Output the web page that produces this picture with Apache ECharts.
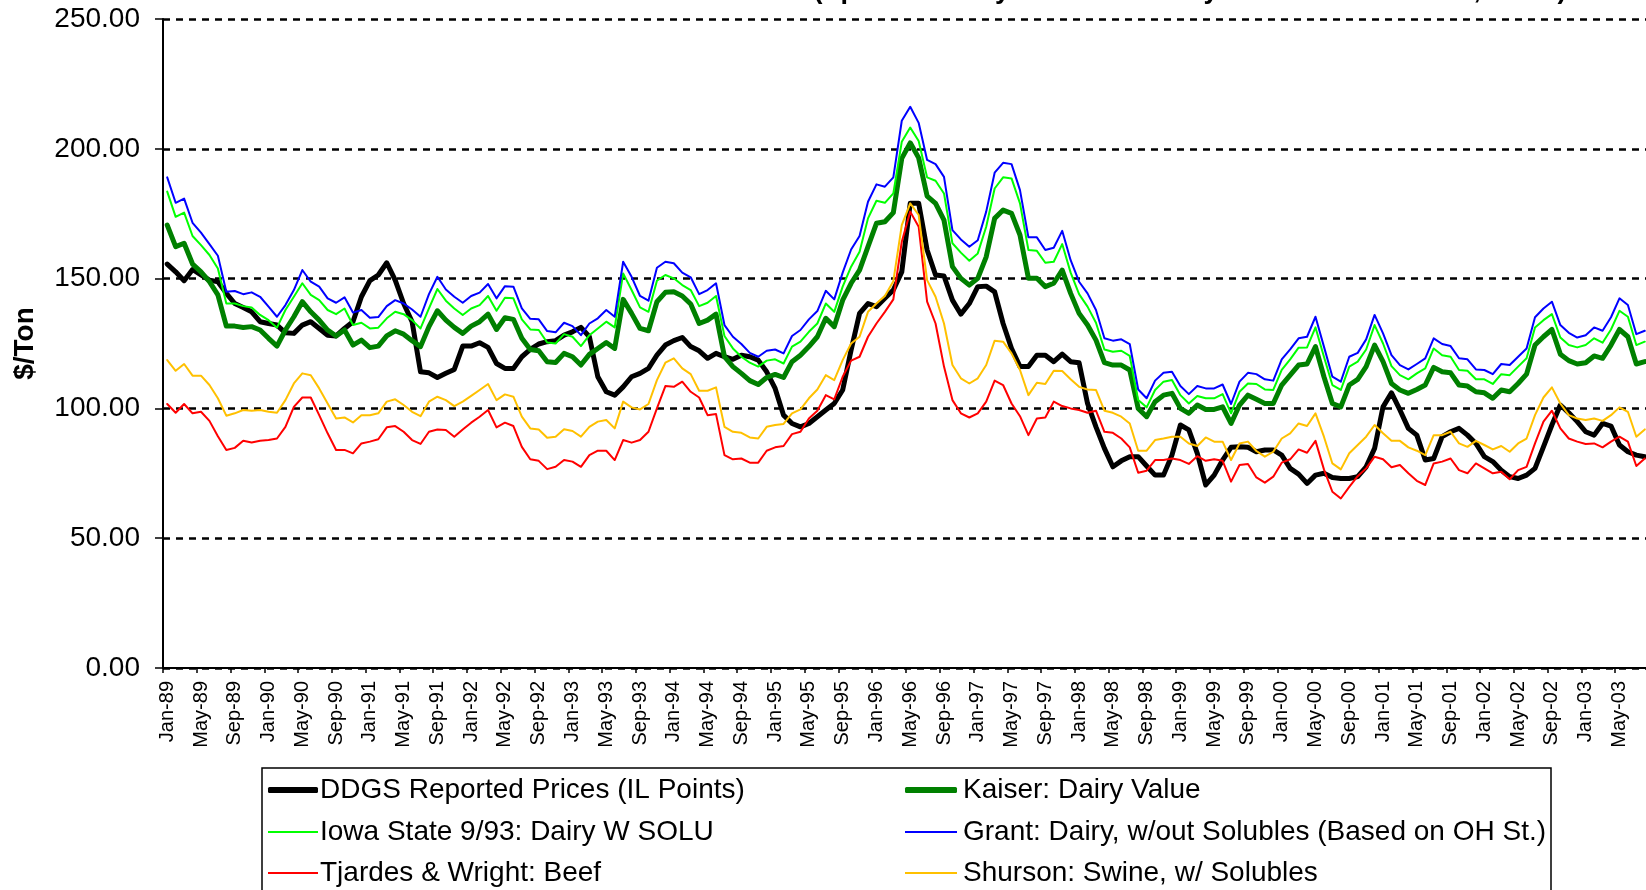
<!DOCTYPE html>
<html>
<head>
<meta charset="utf-8">
<script src="https://cdn.jsdelivr.net/npm/echarts@6/dist/echarts.min.js"></script>
<style>
html,body{margin:0;padding:0;background:#fff;}
#chart{width:1646px;height:890px;}
</style>
</head>
<body>
<div id="chart"></div>
<script>
// ---- data (monthly, Jan-89 .. Aug-03) ----
const monthNames = ['Jan','Feb','Mar','Apr','May','Jun','Jul','Aug','Sep','Oct','Nov','Dec'];
const firstYear = 1989;
const monthCount = 176;
const categories = [];
for (let k = 0; k < monthCount; k++) {
  const y = (firstYear + Math.floor(k / 12)) % 100;
  categories.push(monthNames[k % 12] + '-' + (y < 10 ? '0' + y : '' + y));
}

const yTicks = [0, 50, 100, 150, 200, 250];

const seriesNames = [
  'DDGS Reported Prices (IL Points)',
  'Kaiser: Dairy Value',
  'Iowa State 9/93: Dairy W SOLU',
  'Grant: Dairy, w/out Solubles (Based on OH St.)',
  'Tjardes & Wright: Beef',
  'Shurson: Swine, w/ Solubles'
];

const titleText = '(Spot Prices by Month vs. Dairy Ration Feed Values, 89-03)';

const ddgs = [155.6,152.6,149.2,153.5,151.4,149.4,148.8,144.3,140.4,138.9,137.2,133.4,132.7,132.1,129.1,128.9,132.1,133.4,130.8,128.2,127.9,130.8,133.4,143.0,149.2,151.4,156.1,149.4,140.4,133.4,114.1,
113.7,111.9,113.5,115.0,124.0,124.0,125.3,123.5,117.3,115.4,115.4,119.9,122.7,124.8,125.7,126.1,128.2,129.5,131.2,127.6,112.2,106.4,105.1,108.3,112.2,113.5,115.4,120.5,124.4,
126.1,127.3,123.8,122.2,119.3,121.2,119.9,118.9,120.5,119.9,118.6,114.1,107.7,97.4,94.2,92.9,94.2,96.8,99.4,101.9,107.1,122.5,136.6,140.4,139.2,142.4,145.6,152.6,179.0,179.0,
161.0,151.4,151.0,141.7,136.3,140.4,146.9,147.1,144.9,132.7,123.1,116.1,116.1,120.5,120.5,118.0,120.9,118.0,117.6,101.9,92.9,84.6,77.5,79.8,81.4,81.4,77.8,74.3,74.3,82.0,
93.6,91.7,82.7,70.5,74.3,80.1,85.0,85.2,85.0,83.3,84.0,84.0,82.0,76.9,74.7,71.1,74.3,75.0,73.4,73.0,73.0,73.7,77.5,84.6,100.6,106.0,99.4,92.3,89.7,
80.1,80.7,89.1,91.0,92.3,89.7,86.5,81.4,79.5,76.2,73.7,73.0,74.3,76.9,85.2,93.6,101.3,98.3,94.9,91.0,89.7,94.2,93.2,85.9,83.3,82.0,81.4];

const kaiser = [170.6,162.3,163.6,155.6,152.6,148.8,143.7,131.7,131.7,131.2,131.5,130.2,127.0,124.0,130.2,135.3,141.1,137.2,134.0,130.2,127.9,130.2,124.4,126.3,123.4,124.0,127.9,129.9,128.6,126.1,123.8,
131.5,137.6,134.0,131.2,128.9,131.7,133.4,136.3,130.4,134.9,134.3,127.0,122.7,122.2,118.0,117.7,121.2,119.9,116.7,120.8,123.1,125.4,123.1,142.0,136.6,130.8,129.9,141.1,144.7,
144.9,143.3,140.2,132.7,134.0,136.3,119.9,116.1,113.5,110.7,109.2,111.9,113.1,111.9,118.0,120.5,123.8,127.6,134.7,131.5,141.7,148.2,153.3,162.3,171.3,171.9,175.4,196.3,202.3,196.5,
181.8,179.0,172.5,154.6,150.1,147.5,150.1,158.4,173.2,176.4,175.1,166.8,150.1,150.1,146.9,148.2,153.3,144.3,136.6,132.1,126.3,117.6,116.7,116.7,114.8,100.0,96.8,102.6,105.1,105.8,
100.0,98.1,101.3,99.6,99.6,100.6,94.2,101.3,105.1,103.5,101.9,101.9,109.0,112.8,116.7,117.1,123.8,112.2,101.9,100.6,109.0,111.2,116.1,124.4,118.0,109.6,107.1,105.8,107.3,
109.0,115.8,114.1,113.7,109.0,108.6,106.4,106.0,103.9,107.1,106.4,109.6,113.2,124.4,127.6,130.4,120.9,118.4,117.1,117.6,120.2,119.3,124.4,130.4,127.6,117.1,118.0];

const iowa = [183.5,173.8,175.4,166.4,162.9,159.1,153.9,140.4,140.4,139.4,138.9,136.0,134.0,131.1,137.9,143.0,148.2,143.7,141.7,137.9,136.3,138.5,132.1,133.0,130.8,131.1,134.7,137.2,136.3,134.0,130.8,
138.5,146.0,141.5,138.5,136.0,138.5,139.8,143.3,137.6,142.6,142.4,134.3,130.4,130.2,125.4,125.0,128.6,127.6,124.0,128.2,130.8,133.4,131.2,152.0,145.6,138.9,137.2,149.2,151.4,
150.1,147.5,145.6,139.4,140.7,143.3,127.9,123.1,119.9,117.6,116.1,118.4,118.9,117.3,123.8,125.7,129.5,132.7,140.4,137.2,146.9,154.6,160.3,173.2,180.0,179.2,182.8,202.7,208.2,203.0,
189.0,187.7,182.8,163.6,160.0,156.9,159.7,170.0,184.7,189.0,188.6,179.0,161.0,160.7,156.1,156.5,163.3,152.3,144.0,139.2,133.0,122.7,121.8,122.2,120.2,103.2,100.4,107.1,110.3,110.9,
105.1,101.9,104.8,103.9,103.9,105.5,98.1,106.4,109.6,109.4,107.3,107.1,114.8,118.9,123.4,123.5,131.2,119.9,109.0,107.1,116.1,118.0,122.7,132.1,125.0,116.3,112.8,111.2,113.5,
115.4,123.1,120.5,119.9,114.8,114.5,111.2,111.2,109.4,113.2,112.8,116.1,119.3,131.2,134.0,136.3,127.3,124.4,123.5,124.4,127.0,125.3,130.4,137.6,135.3,124.4,125.7];

const grant = [189.0,179.2,180.8,171.5,167.7,163.3,158.8,144.9,145.2,144.0,144.7,143.0,139.2,135.3,139.8,145.6,153.3,148.8,146.9,142.4,140.7,142.8,136.9,137.9,134.9,135.2,139.4,141.7,140.4,138.1,135.3,
144.0,150.7,145.8,143.0,140.7,143.3,144.6,147.9,142.4,147.1,146.9,138.5,134.5,134.3,129.8,129.3,133.0,131.7,128.2,132.7,134.7,137.9,135.3,156.5,150.7,143.3,141.5,154.2,156.5,
155.9,152.3,150.5,144.0,145.6,148.2,132.1,127.6,124.8,121.4,119.9,122.2,122.7,121.2,127.9,130.2,134.3,137.5,145.3,142.0,152.3,161.2,166.4,179.6,186.3,185.4,189.0,210.8,216.2,210.0,
195.7,194.1,189.2,168.7,165.1,162.3,164.8,175.8,190.8,194.6,194.1,184.1,165.9,165.9,161.0,161.9,168.4,157.1,148.8,144.3,137.9,127.0,126.1,126.6,124.8,107.3,103.9,110.7,113.7,114.1,
108.6,105.5,108.6,107.7,107.7,109.2,101.7,110.3,113.7,113.2,111.2,110.7,118.9,122.7,127.0,127.6,135.3,123.8,112.2,110.3,119.9,121.4,126.6,136.0,128.9,120.5,116.7,115.0,117.1,
119.3,127.0,124.8,124.0,119.3,118.9,115.0,114.8,113.2,117.1,116.7,119.9,123.1,135.1,138.5,141.1,132.1,129.1,127.3,128.2,131.2,129.9,135.1,142.4,139.8,128.6,129.9];

const tjardes = [101.7,98.3,101.7,98.1,98.7,95.2,89.3,84.0,84.8,87.5,86.9,87.5,87.8,88.4,92.9,100.6,104.2,104.2,97.4,90.4,84.0,84.0,82.7,86.5,87.2,88.1,92.7,93.2,91.0,87.8,86.3,
91.0,91.9,91.7,89.1,91.9,94.5,96.8,99.4,92.7,94.5,93.2,85.2,80.4,79.8,76.6,77.5,80.1,79.5,77.5,82.0,83.7,83.7,80.1,87.8,86.8,87.8,91.0,100.0,108.6,
108.3,110.3,106.4,104.2,97.4,97.8,82.0,80.4,80.7,79.1,79.1,83.7,85.0,85.5,90.1,91.0,96.1,99.1,105.1,103.5,112.2,118.4,119.9,127.6,132.7,137.2,142.0,164.2,175.8,170.0,
141.1,132.7,116.1,103.2,98.1,96.5,98.1,102.6,110.7,109.0,101.9,97.0,89.7,96.1,96.5,102.6,100.9,100.0,99.4,98.3,99.1,91.0,90.6,88.4,85.0,75.2,76.0,80.1,80.1,80.7,
80.1,78.6,81.6,79.8,80.4,79.8,71.8,78.2,78.6,73.4,71.4,73.7,79.1,80.4,84.2,82.9,87.5,76.5,67.9,65.3,69.8,73.9,76.9,81.4,80.4,77.3,78.2,75.0,72.1,
70.5,78.8,79.5,80.7,76.2,75.0,78.8,76.9,75.0,75.6,72.7,76.2,77.5,86.5,94.9,99.1,92.3,88.4,87.2,86.3,86.5,85.0,87.2,89.1,87.2,77.8,80.7];

const shurson = [118.6,114.5,117.1,112.6,112.6,109.0,103.9,97.2,98.1,99.4,99.1,99.4,98.7,98.3,103.2,109.6,113.5,112.8,107.7,101.9,96.1,96.5,94.6,97.4,97.4,98.1,102.6,103.5,101.3,98.7,97.0,
102.6,104.5,103.2,100.9,102.6,104.8,107.1,109.4,103.2,105.4,104.5,96.8,92.3,91.9,88.7,89.1,92.0,91.3,89.1,92.9,94.9,95.5,92.3,102.6,100.4,99.6,101.7,110.9,117.6,
119.3,115.4,113.2,106.8,106.8,108.1,92.9,91.0,90.6,88.8,88.4,92.9,93.6,94.0,98.1,99.6,103.9,107.3,112.8,110.9,118.6,125.0,127.6,137.2,140.4,143.3,149.0,170.6,179.0,174.5,
149.4,143.0,132.7,116.7,111.6,109.6,111.6,116.7,126.1,125.7,121.2,114.8,105.1,109.9,109.4,114.5,114.4,111.2,108.3,107.3,107.1,99.1,98.3,96.8,94.2,83.7,83.7,87.8,88.4,89.1,
89.1,86.5,85.5,88.8,87.2,87.2,80.1,86.5,87.2,83.6,81.4,83.3,88.4,90.4,94.2,93.2,98.1,89.1,78.8,76.5,82.7,85.9,89.1,93.6,90.4,87.5,87.5,85.0,83.7,
82.0,89.7,89.7,91.0,86.5,85.2,87.5,85.9,84.2,85.5,83.3,86.5,88.4,97.4,104.2,108.1,101.9,97.4,96.1,95.5,96.1,95.2,97.4,100.4,98.7,89.1,91.9];

const seriesData = [ddgs, kaiser, iowa, grant, tjardes, shurson];
const seriesColors = ['#000000', '#008000', '#00ff00', '#0000ff', '#ff0000', '#ffc000'];
const seriesWidths = [5, 5, 2, 2, 2, 2];

const FONT = '"Liberation Sans", Arial, sans-serif';

const chart = echarts.init(document.getElementById('chart'), null, {renderer: 'canvas'});

const series = seriesNames.map((n, k) => ({
  name: n,
  type: 'line',
  data: seriesData[k],
  symbol: 'none',
  showSymbol: false,
  smooth: false,
  z: 2 + k,
  lineStyle: {color: seriesColors[k], width: seriesWidths[k], join: 'round', cap: 'round'},
  itemStyle: {color: seriesColors[k]},
  emphasis: {disabled: true},
  animation: false
}));

// legend layout: 2 columns x 3 rows (row-wise order like the original)
const legendCols = [263, 900];
const legendIconW = [50, 52];
const legendTextPad = [-3, 1];
const legendRowCenters = [790, 832, 873];
const legends = seriesNames.map((n, k) => {
  const col = k % 2, row = Math.floor(k / 2);
  const thick = seriesWidths[k] > 3;
  return {
    left: legendCols[col],
    top: legendRowCenters[row] - 14 - 5,
    itemWidth: legendIconW[col],
    itemHeight: thick ? 6 : 2,
    icon: thick ? 'roundRect' : 'rect',
    selectedMode: false,
    data: [{name: n, itemStyle: {color: seriesColors[k], borderWidth: 0}}],
    textStyle: {fontSize: 28, color: '#000', fontFamily: FONT, padding: [0, 0, 0, legendTextPad[col]], lineHeight: 28}
  };
});

const option = {
  backgroundColor: '#ffffff',
  animation: false,
  grid: {left: 163, top: 19, right: -3, bottom: 222, containLabel: false, outerBoundsMode: 'none'},
  xAxis: {
    type: 'category',
    data: categories,
    boundaryGap: true,
    axisLine: {show: true, lineStyle: {color: '#000', width: 2}},
    axisTick: {show: true, interval: 3, length: 5, lineStyle: {color: '#000', width: 1.5}},
    axisLabel: {interval: 3, rotate: 90, margin: 13, fontSize: 20, color: '#000', fontFamily: FONT},
    splitLine: {show: false}
  },
  yAxis: {
    type: 'value',
    min: 0, max: 250, interval: 50,
    name: '$/Ton',
    nameLocation: 'middle',
    nameGap: 124,
    nameRotate: 90,
    nameTextStyle: {fontSize: 28, fontWeight: 'bold', color: '#000', fontFamily: FONT},
    axisLine: {show: true, lineStyle: {color: '#000', width: 2}},
    axisTick: {show: true, length: 8, lineStyle: {color: '#000', width: 1.5}},
    axisLabel: {
      margin: 23, fontSize: 28, color: '#000', fontFamily: FONT,
      formatter: v => (yTicks.indexOf(v) >= 0 ? v.toFixed(2) : '')
    },
    splitLine: {show: true, lineStyle: {color: '#000', width: 2.5, type: [7, 6]}}
  },
  legend: legends,
  graphic: [
    {
      type: 'rect', z: -1, silent: true,
      shape: {x: 262, y: 768, width: 1289, height: 200},
      style: {fill: '#fff', stroke: '#000', lineWidth: 1.5}
    },
    {
      type: 'text', silent: true, x: 1190, y: 4,
      style: {
        text: titleText,
        font: 'bold 27px ' + FONT, fill: '#000', align: 'center', verticalAlign: 'bottom'
      }
    }
  ],
  series: series
};

chart.setOption(option);
</script>
</body>
</html>
